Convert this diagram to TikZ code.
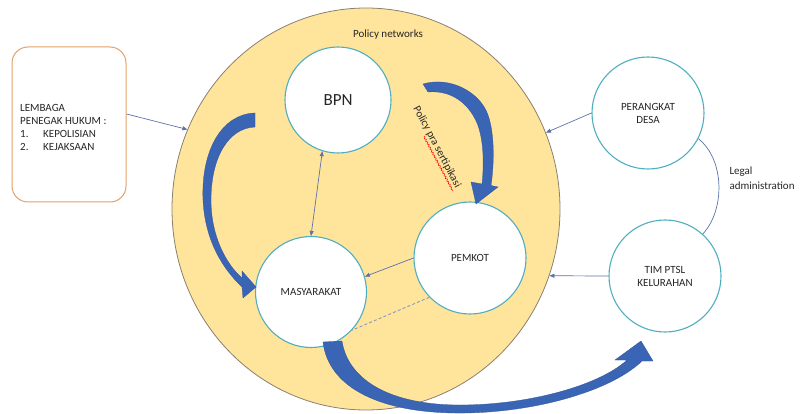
\documentclass[tikz,border=0pt]{standalone}
\usepackage{fontspec}
\setmainfont{Carlito}
\usetikzlibrary{shapes.geometric,arrows.meta,calc,decorations.pathmorphing}
\definecolor{netfill}{HTML}{FFE49C}
\definecolor{netline}{HTML}{8A8070}
\definecolor{ringcol}{HTML}{4FAEC0}
\definecolor{boxcol}{HTML}{E3A06A}
\definecolor{blockcol}{HTML}{3A64B4}
\definecolor{linkcol}{HTML}{5A73AA}
\definecolor{dashcol}{HTML}{8A9AB8}
\definecolor{txtcol}{HTML}{262626}
\begin{document}
\begin{tikzpicture}[x=1pt,y=-1pt,
  smalltxt/.style={font=\fontsize{11}{13}\selectfont, text=txtcol},
  actor/.style={circle, draw=ringcol, line width=1.1pt, fill=white, inner sep=0pt,
    minimum size=112pt, align=center, smalltxt},
  link/.style={draw=linkcol, line width=0.7pt},
  linkarrow/.style={link, -{Triangle[length=5pt,width=4pt]}},
  blockarrow/.style={fill=blockcol, draw=blockcol!85!black, line width=0.3pt}]
\useasboundingbox (0,0) rectangle (800,414);

% policy network area
\node[ellipse, draw=netline, line width=0.8pt, fill=netfill, inner sep=0pt,
  minimum width=388pt, minimum height=402pt] (net) at (366,209) {};
\node[smalltxt] (netlbl) at (388,35) {Policy networks};

% law enforcement box
\node[draw=boxcol, line width=1pt, rounded corners=16pt, fill=white,
  minimum width=114pt, minimum height=155pt, inner sep=0pt] (box) at (69,124.5) {};
\node[smalltxt, anchor=west, align=left, inner sep=0pt] (boxtxt) at (20,127)
  {LEMBAGA\\PENEGAK HUKUM :\\\makebox[23pt][l]{1.}KEPOLISIAN\\\makebox[23pt][l]{2.}KEJAKSAAN};

% actors
\node[actor, minimum size=106pt, font=\fontsize{17}{19}\selectfont] (bpn) at (338,100) {BPN};
\node[actor, minimum size=111pt] (mas) at (311,292) {MASYARAKAT};
\node[actor] (pemkot) at (470,258) {PEMKOT};
\node[actor] (desa) at (648,113) {PERANGKAT\\DESA};
\node[actor] (tim) at (665,276) {TIM PTSL\\KELURAHAN};

% thin connectors
\draw[link, {Triangle[length=5pt,width=4pt]}-{Triangle[length=5pt,width=4pt]}] (bpn.-107) -- (mas.90);
\draw[linkarrow] (pemkot.180) -- (mas.16);
\draw[draw=dashcol, line width=0.9pt, dash pattern=on 3pt off 2.2pt] (pemkot.-136) -- (mas.-43);
\draw[linkarrow] ([yshift=10.5pt]box.east) -- (net.156);
\draw[linkarrow] (desa.180) -- (net.23);
\draw[linkarrow] (tim.180) -- (net.-20);
\draw[link] (desa.-27) .. controls (725,160) and (725,210) .. (tim.48);
\node[smalltxt, anchor=west, align=left, font=\fontsize{11}{14.5}\selectfont] (legal) at (726,178) {Legal\\administration};

% policy text along right arrow
\node[smalltxt, rotate=-62, inner sep=0.5pt] (ptxt) at (437,147) {Policy pra sertipikasi};
\coordinate (ulA) at ($(ptxt.south west)!0.33!(ptxt.south east)$);
\coordinate (ulB) at (ptxt.south east);
\draw[red, line width=0.5pt, decorate, decoration={snake,amplitude=0.8pt,segment length=3pt}]
  ($(ulA)!1.2pt!-90:(ulB)$) -- ($(ulB)!1.2pt!90:(ulA)$);

% left curved block arrow (BPN side to MASYARAKAT)
\path[blockarrow] (255,113) .. controls (222,114) and (201,150) .. (203,200)
  .. controls (205,240) and (222,268) .. (242,287)
  -- (243,298) -- (256,287) -- (242,271) -- (242,278)
  .. controls (226,264) and (211,236) .. (211,200)
  .. controls (211,158) and (228,128) .. (255,127) -- cycle;

% right curved block arrow (BPN to PEMKOT)
\path[blockarrow] (423,84) .. controls (450,76) and (480,92) .. (488,115)
  .. controls (495,135) and (494,165) .. (491,185.5)
  -- (498,187) -- (476,204) -- (471,182) -- (482,184)
  .. controls (484,165) and (484,140) .. (477,123)
  .. controls (468,102) and (450,90) .. (428,92) -- cycle;

% bottom curved block arrow (MASYARAKAT to TIM PTSL)
\path[blockarrow] (342,341) .. controls (348,380) and (390,405) .. (460,405)
  .. controls (530,405) and (600,385) .. (627,360)
  -- (615,360) -- (641,341) -- (653,361) -- (642,361)
  .. controls (610,392) and (530,414) .. (455,413)
  .. controls (375,412) and (328,385) .. (323,342) -- cycle;
\end{tikzpicture}
\end{document}
